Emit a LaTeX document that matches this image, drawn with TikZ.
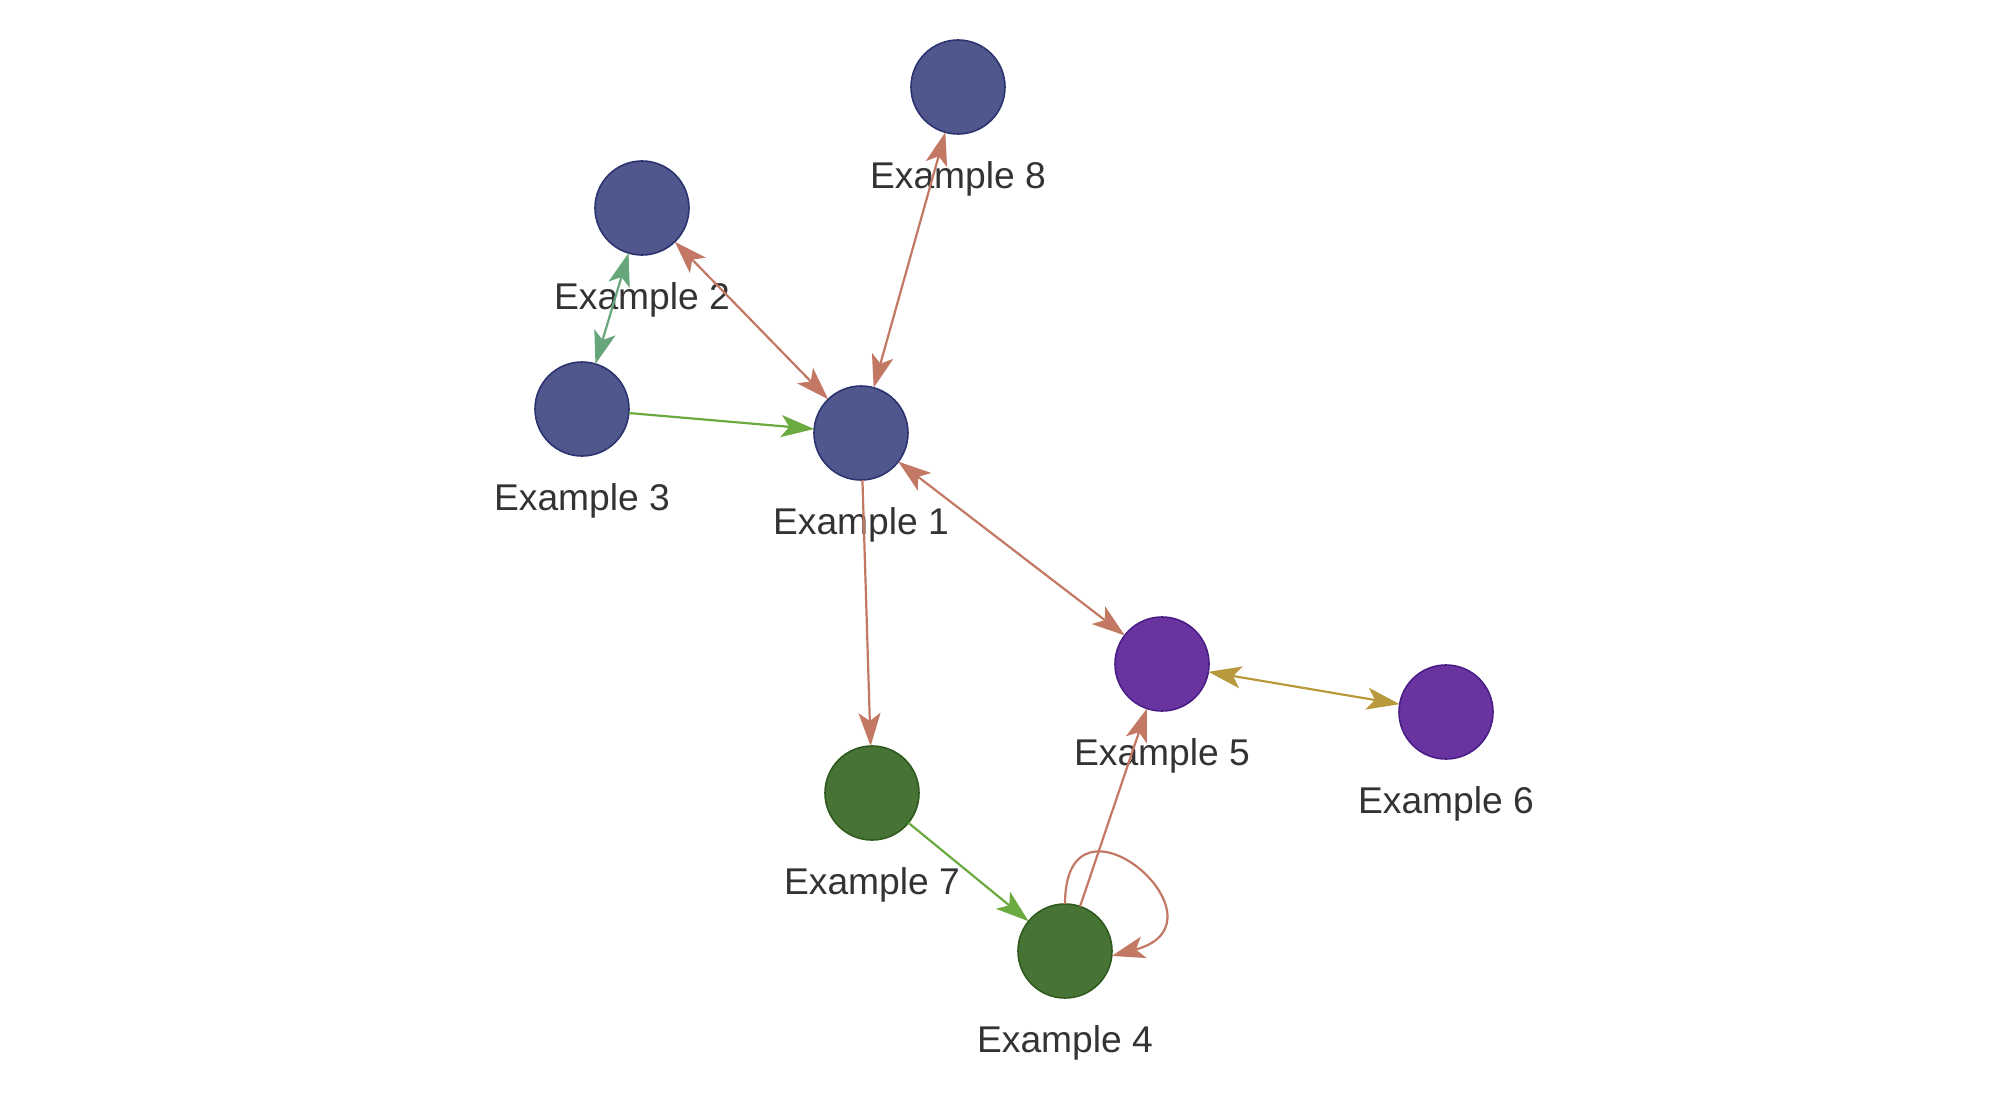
\documentclass[tikz,border=0pt]{standalone}
\usepackage{fontspec}
\setmainfont{Liberation Sans}
\usetikzlibrary{arrows.meta}
\definecolor{bluefill}{HTML}{4F578C}
\definecolor{blueline}{HTML}{2C3370}
\definecolor{purplefill}{HTML}{6934A0}
\definecolor{purpleline}{HTML}{4B1D86}
\definecolor{greenfill}{HTML}{477334}
\definecolor{greenline}{HTML}{2E5A1E}
\definecolor{salmonedge}{HTML}{C27863}
\definecolor{greenedge}{HTML}{6BAA40}
\definecolor{tealedge}{HTML}{67A57B}
\definecolor{goldedge}{HTML}{B89A3D}
\definecolor{labelgray}{HTML}{333333}

\begin{document}
\begin{tikzpicture}[x=0.5pt,y=-0.5pt,>={Stealth[length=16.5pt,width=11pt,inset=4pt]},
  label distance=27pt,
  vertex/.style={circle,minimum size=47pt,inner sep=0pt,outer sep=0pt,line width=0.8pt,
    label={[text=labelgray,font=\fontsize{18.6}{22}\selectfont,anchor=base]below:#1}},
  bluev/.style={vertex=#1,fill=bluefill,draw=blueline},
  purplev/.style={vertex=#1,fill=purplefill,draw=purpleline},
  greenv/.style={vertex=#1,fill=greenfill,draw=greenline},
  link/.style={line width=1.1pt}]
\useasboundingbox (0,0) rectangle (1992,1102);

\node[bluev=Example 1] (e1) at (861,433) {};
\node[bluev=Example 2] (e2) at (642,208) {};
\node[bluev=Example 3] (e3) at (582,409) {};
\node[greenv=Example 4] (e4) at (1065,951) {};
\node[purplev=Example 5] (e5) at (1162,664) {};
\node[purplev=Example 6] (e6) at (1446,712) {};
\node[greenv=Example 7] (e7) at (872,793) {};
\node[bluev=Example 8] (e8) at (958,87) {};

\path[link] (e1) edge[<->,salmonedge] (e2) edge[<->,salmonedge] (e8)
edge[<->,salmonedge] (e5) edge[->,salmonedge] (e7)
(e2) edge[<->,tealedge] (e3)
(e3) edge[->,greenedge] (e1)
(e5) edge[<->,goldedge] (e6)
(e7) edge[->,greenedge] (e4)
(e4) edge[->,salmonedge] (e5);
% self loop on Example 4
\draw[link,->,salmonedge] (e4.90) .. controls +(90:65pt) and +(15:65pt) .. (e4.-6);
\end{tikzpicture}
\end{document}
